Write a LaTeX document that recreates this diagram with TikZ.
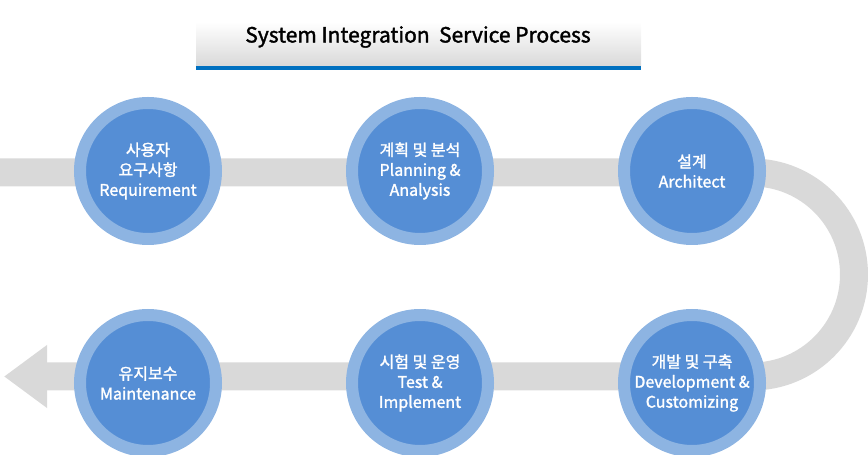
\documentclass[tikz,border=0pt]{standalone}
\usepackage{fontspec}
\setmainfont{Noto Sans CJK KR}
\newfontfamily\stagefont{Noto Sans CJK KR}[FakeBold=1.6]
\usetikzlibrary{arrows.meta, positioning}
\definecolor{bandgray}{RGB}{217,217,217}
\definecolor{ringblue}{RGB}{141,180,226}
\definecolor{coreblue}{RGB}{85,142,213}
\definecolor{lineblue}{RGB}{0,112,192}
\tikzstyle{stage} = [circle, minimum size=136pt, inner sep=0pt, draw=ringblue, line width=12pt, fill=coreblue, text=white, align=center, font=\stagefont\fontsize{16}{20}\selectfont]
\tikzstyle{band} = [draw=bandgray, line width=28pt, -{Triangle[length=43pt,width=60pt]}]
\tikzstyle{titlebar} = [rectangle, minimum width=445pt, minimum height=44pt, inner sep=0pt, top color=white, bottom color=gray!30]
\tikzstyle{titleline} = [draw=lineblue, line width=4pt]

\begin{document}
\begin{tikzpicture}[x=1pt, y=1pt, node distance=272pt]
    \useasboundingbox (0,0) rectangle (868,455);
    % title
    \node (titlebar) [titlebar] at (418.5,411) {};
    \draw [titleline] ([yshift=-2pt]titlebar.south west) -- ([yshift=-2pt]titlebar.south east);
    \node (title) at (418,418) {\stagefont\fontsize{21}{24}\selectfont System Integration\ \ Service Process};
    
    % grey path behind the stages
    \coordinate (bandstart) at (0,282.5);
    \coordinate (bandend) at (4,78.5);
    \draw [band] (bandstart) -- (752,282.5) arc[start angle=90, end angle=-90, radius=102] -- (bandend);
    
    % stages
    \node (req) [stage] at (148,284) {사용자\\요구사항\\Requirement};
    \node (plan) [stage, right of=req] {계획 및 분석\\Planning \&\\Analysis};
    \node (arch) [stage, right of=plan] {설계\\Architect};
    \node (dev) [stage, below of=arch, node distance=212pt] {개발 및 구축\\Development \&\\Customizing};
    \node (test) [stage, left of=dev] {시험 및 운영\\Test \&\\Implement};
    \node (maint) [stage, left of=test] {유지보수\\Maintenance};
\end{tikzpicture}
\end{document}
